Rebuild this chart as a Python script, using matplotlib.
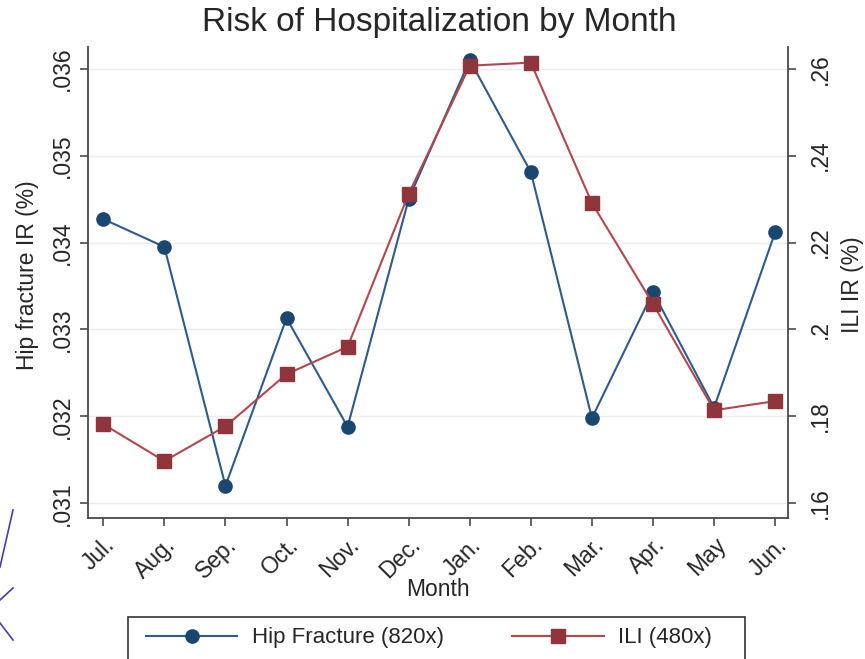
import matplotlib
matplotlib.use("Agg")
import matplotlib.pyplot as plt
from matplotlib.lines import Line2D
from matplotlib.patches import Rectangle
from matplotlib.ticker import FuncFormatter, FixedLocator

plt.rcParams['font.family'] = ['Liberation Sans', 'DejaVu Sans']

# Data
months = ["Jul.", "Aug.", "Sep.", "Oct.", "Nov.", "Dec.",
          "Jan.", "Feb.", "Mar.", "Apr.", "May", "Jun."]
hip_fracture = [0.03427, 0.03395, 0.03120, 0.03313, 0.03188, 0.03450,
                0.03610, 0.03481, 0.03198, 0.03343, 0.03210, 0.03412]
ili = [0.1782, 0.1697, 0.1777, 0.1897, 0.1960, 0.2312,
       0.2607, 0.2614, 0.2291, 0.2059, 0.1814, 0.1835]
left_ticks = [0.031, 0.032, 0.033, 0.034, 0.035, 0.036]
right_ticks = [0.16, 0.18, 0.20, 0.22, 0.24, 0.26]

W, H = 865, 659
fig = plt.figure(figsize=(W / 100, H / 100), dpi=100)
fig.patch.set_facecolor("white")


def fx(px):
    return px / W


def fy(py):
    return 1 - py / H


ax = fig.add_axes([fx(88), fy(518), fx(788) - fx(88), fy(47) - fy(518)])
ax2 = ax.twinx()

navy = "#1a476f"
navy_line = "#2d5c8c"
maroon = "#90353b"
maroon_line = "#b3474d"
axis_col = "#4a4a4a"
text_col = "#262626"

x = list(range(len(months)))
ax.plot(x, hip_fracture, color=navy_line, lw=1.5, marker="o", ms=9.5,
        mfc=navy, mec=navy, zorder=3)
ax2.plot(x, ili, color=maroon_line, lw=1.5, marker="s", ms=9.5,
         mfc=maroon, mec=maroon, zorder=3)

# Scales
ax.set_xlim(-0.25, 11.21)
ylo, yhi = 0.03083, 0.03625
ax.set_ylim(ylo, yhi)
ax2.set_ylim(0.16 + (ylo - 0.031) * 20, 0.16 + (yhi - 0.031) * 20)

ax.yaxis.set_major_locator(FixedLocator(left_ticks))
ax2.yaxis.set_major_locator(FixedLocator(right_ticks))


def strip_zero(v, pos):
    s = f"{round(v, 4):g}"
    return s[1:] if s.startswith("0") else s


ax.yaxis.set_major_formatter(FuncFormatter(strip_zero))
ax2.yaxis.set_major_formatter(FuncFormatter(strip_zero))

ax.set_xticks(x)
ax.set_xticklabels(months, rotation=45, ha="right", va="top",
                   rotation_mode="anchor")

ax.grid(axis="y", color="#ececec", lw=1.0)
ax.set_axisbelow(True)

for a in (ax, ax2):
    a.spines["top"].set_visible(False)
    for s in ("left", "right", "bottom"):
        a.spines[s].set_color(axis_col)
        a.spines[s].set_linewidth(1.3)
ax.spines["right"].set_visible(False)
ax2.spines["left"].set_visible(False)
ax2.spines["bottom"].set_visible(False)

ax.tick_params(axis="x", direction="out", length=6, width=1.2,
               color=axis_col, labelsize=16.5, labelcolor=text_col, pad=5)
ax.tick_params(axis="y", direction="out", length=6, width=1.2,
               color=axis_col, labelsize=16.5, labelcolor=text_col, pad=4)
ax2.tick_params(axis="y", direction="out", length=6, width=1.2,
                color=axis_col, labelsize=16.5, labelcolor=text_col, pad=9)
for lab in ax.get_yticklabels():
    lab.set_rotation(90)
    lab.set_va("center")
for lab in ax2.get_yticklabels():
    lab.set_rotation(90)
    lab.set_va("center")

# Titles and axis labels
fig.text(fx(439), fy(23), "Risk of Hospitalization by Month", fontsize=24,
         color=text_col, ha="center", va="center")
fig.text(fx(438), fy(590), "Month", fontsize=16.5, color=text_col,
         ha="center", va="center")
fig.text(fx(28), fy(275), "Hip fracture IR (%)", fontsize=16.5,
         color=text_col, ha="center", va="center", rotation=90)
fig.text(fx(852), fy(285), "ILI IR (%)", fontsize=16.5,
         color=text_col, ha="center", va="center", rotation=90)

# Legend
handles = [
    Line2D([], [], color=navy_line, lw=1.5, marker="o", ms=9.5,
           mfc=navy, mec=navy),
    Line2D([], [], color=maroon_line, lw=1.5, marker="s", ms=9.5,
           mfc=maroon, mec=maroon),
]
fig.legend(handles, ["Hip Fracture (820x)", "ILI (480x)"], ncol=2,
           loc="center left", bbox_to_anchor=(fx(146), fy(638)),
           frameon=False, fontsize=16, handlelength=4.1,
           handletextpad=0.65, columnspacing=3.1, borderpad=0,
           borderaxespad=0, labelcolor=text_col)
fig.patches.append(Rectangle((fx(128), fy(700)), fx(745) - fx(128),
                             fy(617) - fy(700), transform=fig.transFigure,
                             fill=False, edgecolor="#333333", lw=1.2))

# Stray strokes at the lower-left edge
stroke = "#4b3aa8"
for (x0, y0), (x1, y1) in [((13, 510), (0, 567)),
                           ((13, 588), (0, 600)),
                           ((0, 623), (13, 640))]:
    fig.add_artist(Line2D([fx(x0), fx(x1)], [fy(y0), fy(y1)],
                          transform=fig.transFigure, color=stroke, lw=1.2))

fig.savefig("out.png", dpi=100)
